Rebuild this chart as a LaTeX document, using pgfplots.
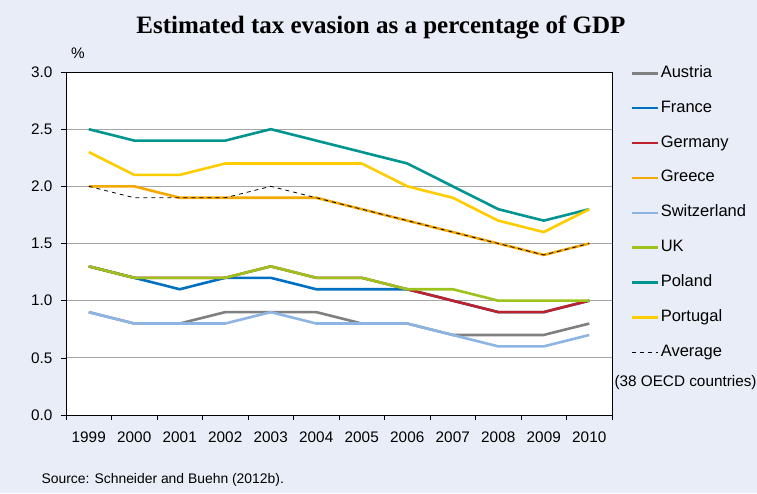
\documentclass[border=0pt]{standalone}
\usepackage{pgfplots}
\pgfplotsset{compat=1.18}
\usepackage{fontspec}
\setmainfont{Liberation Sans}
\newfontfamily\titlefont{Liberation Serif}
\definecolor{bgc}{HTML}{E9EDF8}
\definecolor{cAus}{HTML}{808080}
\definecolor{cFra}{HTML}{0070C0}
\definecolor{cGer}{HTML}{C0202A}
\definecolor{cGre}{HTML}{F5A800}
\definecolor{cSwi}{HTML}{8DB4E2}
\definecolor{cUK}{HTML}{9BC31C}
\definecolor{cPol}{HTML}{00968F}
\definecolor{cPor}{HTML}{FFCC00}
\begin{document}
\begin{tikzpicture}
\path[use as bounding box] (0,0) rectangle (757pt,493pt);
\fill[bgc] (0,0) rectangle (757pt,493pt);
\begin{axis}[
  at={(66pt,78pt)}, anchor=south west,
  scale only axis, width=546pt, height=343pt,
  xmin=-0.5, xmax=11.5, ymin=0, ymax=3,
  axis background/.style={fill=white},
  axis line style={black, line width=0.8pt},
  xtick={0,...,11},
  xticklabels={1999,2000,2001,2002,2003,2004,2005,2006,2007,2008,2009,2010},
  minor xtick={-0.5,0.5,...,11.5},
  major x tick style={draw=none},
  minor x tick style={black, line width=0.6pt},
  minor tick length=5pt,
  ytick={0,0.5,...,3},
  major tick length=5pt,
  tick align=outside, tick pos=left,
  y tick style={black, line width=0.6pt},
  ymajorgrids, major grid style={gray!70, line width=0.8pt},
  yticklabel style={/pgf/number format/fixed, /pgf/number format/fixed zerofill, /pgf/number format/precision=1, xshift=-5pt},
  xticklabel style={yshift=-8pt},
  /pgf/number format/assume math mode=true,
  tick label style={font=\fontsize{15.3}{17}\selectfont},
  legend style={at={(564pt,352pt)}, anchor=north west, draw=none, fill=none,
    font=\fontsize{16.5}{18}\selectfont, row sep=14.9pt, inner sep=0pt,
    nodes={text height=12pt, text depth=4pt},
    /tikz/every even column/.append style={column sep=3pt}},
  legend cell align=left,
  legend image code/.code={\draw[#1] (0pt,0pt) -- (26pt,0pt);},
  every axis plot/.append style={line width=2.6pt},
]
\addplot[cAus] coordinates {(0,0.9)(1,0.8)(2,0.8)(3,0.9)(4,0.9)(5,0.9)(6,0.8)(7,0.8)(8,0.7)(9,0.7)(10,0.7)(11,0.8)};
\addlegendentry{Austria}
\addplot[cFra] coordinates {(0,1.3)(1,1.2)(2,1.1)(3,1.2)(4,1.2)(5,1.1)(6,1.1)(7,1.1)(8,1.0)(9,0.9)(10,0.9)(11,1.0)};
\addlegendentry{France}
\addplot[cGer] coordinates {(0,1.3)(1,1.2)(2,1.2)(3,1.2)(4,1.3)(5,1.2)(6,1.2)(7,1.1)(8,1.0)(9,0.9)(10,0.9)(11,1.0)};
\addlegendentry{Germany}
\addplot[cGre] coordinates {(0,2.0)(1,2.0)(2,1.9)(3,1.9)(4,1.9)(5,1.9)(6,1.8)(7,1.7)(8,1.6)(9,1.5)(10,1.4)(11,1.5)};
\addlegendentry{Greece}
\addplot[cSwi] coordinates {(0,0.9)(1,0.8)(2,0.8)(3,0.8)(4,0.9)(5,0.8)(6,0.8)(7,0.8)(8,0.7)(9,0.6)(10,0.6)(11,0.7)};
\addlegendentry{Switzerland}
\addplot[cUK] coordinates {(0,1.3)(1,1.2)(2,1.2)(3,1.2)(4,1.3)(5,1.2)(6,1.2)(7,1.1)(8,1.1)(9,1.0)(10,1.0)(11,1.0)};
\addlegendentry{UK}
\addplot[cPol] coordinates {(0,2.5)(1,2.4)(2,2.4)(3,2.4)(4,2.5)(5,2.4)(6,2.3)(7,2.2)(8,2.0)(9,1.8)(10,1.7)(11,1.8)};
\addlegendentry{Poland}
\addplot[cPor] coordinates {(0,2.3)(1,2.1)(2,2.1)(3,2.2)(4,2.2)(5,2.2)(6,2.2)(7,2.0)(8,1.9)(9,1.7)(10,1.6)(11,1.8)};
\addlegendentry{Portugal}
\addplot[black, line width=0.8pt, dash pattern=on 4pt off 4pt] coordinates {(0,2.0)(1,1.9)(2,1.9)(3,1.9)(4,2.0)(5,1.9)(6,1.8)(7,1.7)(8,1.6)(9,1.5)(10,1.4)(11,1.5)};
\addlegendentry{Average}
\end{axis}
\node[font=\titlefont\bfseries\fontsize{25}{28}\selectfont] at (381pt,466pt) {Estimated tax evasion as a percentage of GDP};
\node[font=\fontsize{15.3}{17}\selectfont] at (78pt,440pt) {\%};
\node[font=\fontsize{15.3}{17}\selectfont, anchor=west] at (611pt,110pt) {(38 OECD countries)};
\node[font=\fontsize{13.9}{16}\selectfont, anchor=west] at (38pt,13pt) {Source: Schneider and Buehn (2012b).};
\end{tikzpicture}
\end{document}
